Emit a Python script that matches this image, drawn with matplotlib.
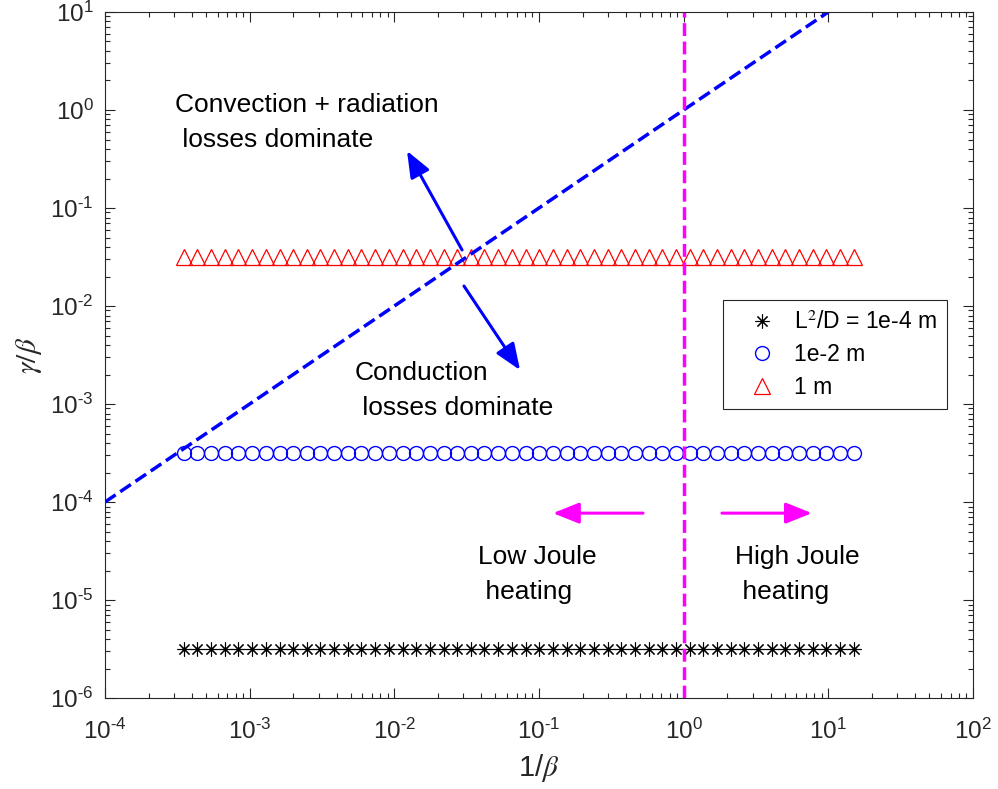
import matplotlib
matplotlib.use("Agg")
import matplotlib.pyplot as plt
import matplotlib.ticker as mticker
import numpy as np

plt.rcParams['font.family'] = ['Liberation Sans', 'DejaVu Sans']
plt.rcParams['mathtext.fontset'] = 'stix'
plt.rcParams['axes.unicode_minus'] = False

# 1/beta sample points (log spaced sweep)
inv_beta = [3.50e-4, 4.35e-4, 5.41e-4, 6.72e-4, 8.36e-4, 1.04e-3, 1.29e-3, 1.61e-3,
            2.00e-3, 2.48e-3, 3.08e-3, 3.84e-3, 4.77e-3, 5.93e-3, 7.37e-3, 9.16e-3,
            1.14e-2, 1.42e-2, 1.76e-2, 2.19e-2, 2.72e-2, 3.38e-2, 4.20e-2, 5.23e-2,
            6.50e-2, 8.08e-2, 0.100, 0.125, 0.155, 0.193, 0.240, 0.298,
            0.371, 0.461, 0.573, 0.712, 0.885, 1.10, 1.37, 1.70,
            2.11, 2.63, 3.27, 4.06, 5.05, 6.28, 7.81, 9.70, 12.1, 15.0]

# gamma/beta level for each L^2/D
series_labels = ['L$^2$/D = 1e-4 m', '1e-2 m', '1 m']
series_levels = [3.16e-6, 3.16e-4, 3.16e-2]
series_markers = [(8, 2, 0), 'o', '^']
series_colors = ['black', 'blue', 'red']
series_sizes = [10, 10, 11]
series_mew = [0.8, 1.0, 0.9]

# boundary lines
diag_x = [1e-4, 10]
diag_y = [1e-4, 10]
joule_x = [1, 1]
joule_y = [1e-6, 10]

ink = '#262626'

fig = plt.figure(figsize=(9.98, 7.89), dpi=100)
ax = fig.add_axes([0.1052, 0.1153, 0.8697, 0.8695])

handles = []
for lab, lev, mk, col, ms, mew in zip(series_labels, series_levels, series_markers,
                                      series_colors, series_sizes, series_mew):
    h, = ax.plot(inv_beta, np.full(len(inv_beta), lev), linestyle='none',
                 marker=mk, markersize=ms, markerfacecolor='none',
                 markeredgecolor=col, markeredgewidth=mew, label=lab)
    handles.append(h)

ax.plot(diag_x, diag_y, '--', color='blue', linewidth=2.5)
ax.plot(joule_x, joule_y, '--', color='#FF00FF', linewidth=2.5)

# arrows marking the regimes
blue_arrows = [((0.0294, 0.0373), (0.01224, 0.382)),
               ((0.0303, 0.016), (0.074, 0.00222))]
pink_arrows = [((0.524, 7.7e-5), (0.125, 7.7e-5)),
               ((1.84, 7.7e-5), (7.7, 7.7e-5))]
for arrows, col in [(blue_arrows, 'blue'), (pink_arrows, '#FF00FF')]:
    for tail, tip in arrows:
        ax.annotate('', xy=tip, xytext=tail,
                    arrowprops=dict(arrowstyle='-|>,head_length=0.8,head_width=0.32',
                                    color=col, lw=2.2, mutation_scale=20,
                                    shrinkA=0, shrinkB=0))

txt = dict(fontsize=19, ha='left', va='center', linespacing=1.6, color='black')
ax.text(3.05e-4, 0.745, 'Convection + radiation\n losses dominate', **txt)
ax.text(5.35e-3, 1.37e-3, 'Conduction\n losses dominate', **txt)
ax.text(0.0378, 1.82e-5, 'Low Joule\n heating', **txt)
ax.text(2.26, 1.82e-5, 'High Joule\n heating', **txt)

ax.set_xscale('log')
ax.set_yscale('log')
ax.set_xlim(1e-4, 1e2)
ax.set_ylim(1e-6, 1e1)


def decade_label(v, pos):
    p = int(round(np.log10(v)))
    exp = r'\text{-}%d' % -p if p < 0 else '%d' % p
    return r'$\mathregular{10^{%s}}$' % exp


ax.xaxis.set_major_formatter(mticker.FuncFormatter(decade_label))
ax.yaxis.set_major_formatter(mticker.FuncFormatter(decade_label))
ax.xaxis.set_minor_formatter(mticker.NullFormatter())
ax.yaxis.set_minor_formatter(mticker.NullFormatter())

ax.set_xlabel(r'1/$\beta$', fontsize=21, color=ink, labelpad=6)
ax.set_ylabel(r'$\gamma/\beta$', fontsize=21, color=ink, labelpad=4)

ax.tick_params(which='both', direction='in', top=True, right=True, colors=ink,
               labelsize=17.5)
ax.tick_params(which='major', length=7, width=0.8)
ax.tick_params(which='minor', length=3.6, width=0.8)
ax.tick_params(axis='x', pad=15)
ax.tick_params(axis='y', pad=8)
for sp in ax.spines.values():
    sp.set_color(ink)
    sp.set_linewidth(0.8)

leg = ax.legend(handles=handles, loc='upper left', bbox_to_anchor=(0.712, 0.580),
                borderaxespad=0, fontsize=16.5, frameon=True, fancybox=False,
                framealpha=1, edgecolor=ink, borderpad=0.45, handlelength=2.5,
                handletextpad=0.15, labelspacing=0.42, numpoints=1)
leg.get_frame().set_linewidth(0.8)

fig.savefig('out.png', dpi=100)
